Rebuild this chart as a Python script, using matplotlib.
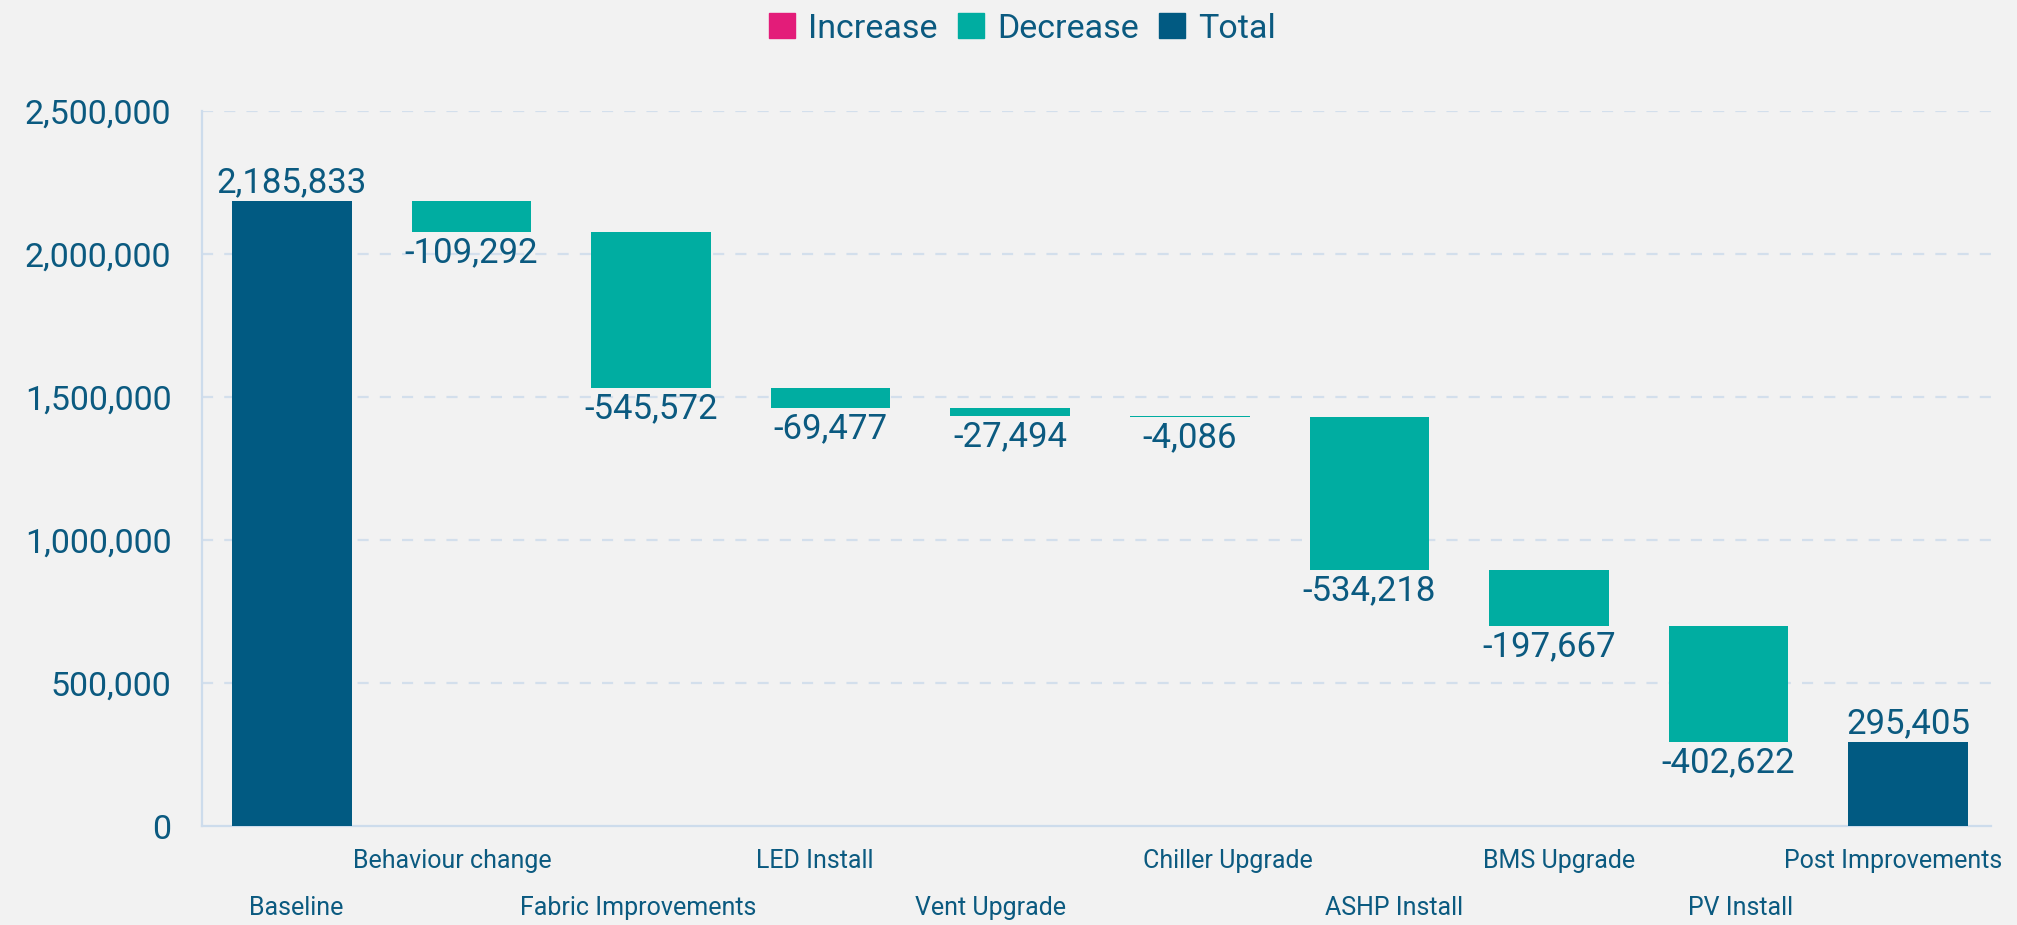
import numpy as np
import matplotlib.pyplot as plt
from matplotlib.patches import Patch
from matplotlib.ticker import FuncFormatter

categories = ["Baseline", "Behaviour change", "Fabric Improvements", "LED Install",
              "Vent Upgrade", "Chiller Upgrade", "ASHP Install", "BMS Upgrade",
              "PV Install", "Post Improvements"]
values = [2185833, -109292, -545572, -69477, -27494, -4086, -534218, -197667,
          -402622, 295405]
kinds = ["total", "decrease", "decrease", "decrease", "decrease", "decrease",
         "decrease", "decrease", "decrease", "total"]
yticks = [0, 500000, 1000000, 1500000, 2000000, 2500000]

# horizontal nudge of each category label (pixels), as in the original layout
label_nudge = [4, -19, -13, -16, -20, 38, 25, 10, 12, -15]

c_inc = "#e31c79"
c_dec = "#00ada1"
c_tot = "#015a82"
c_txt = "#0b5a80"
c_grid = "#d3dfec"
bg = "#f2f2f2"

plt.rcParams['font.family'] = ['Roboto', 'DejaVu Sans']

fig = plt.figure(figsize=(20.17, 9.25), dpi=100, facecolor=bg)
ax = fig.add_axes([0.1001, 0.107, 0.8869, 0.773])
ax.set_facecolor(bg)

# waterfall bases
bottoms, heights, colors = [], [], []
running = 0
for v, k in zip(values, kinds):
    if k == "total":
        bottoms.append(0)
        heights.append(v)
        colors.append(c_tot)
        running = v
    else:
        new = running + v
        bottoms.append(min(running, new))
        heights.append(abs(v))
        colors.append(c_dec if v < 0 else c_inc)
        running = new

x = np.arange(len(categories))
ax.bar(x, heights, bottom=bottoms, width=0.666, color=colors, zorder=3)

for i, (v, k) in enumerate(zip(values, kinds)):
    txt = f"{v:,}"
    if k == "total":
        ax.annotate(txt, (x[i], bottoms[i] + heights[i]), xytext=(0, 1),
                    textcoords="offset points", ha="center", va="bottom",
                    fontsize=25, color=c_txt, zorder=4)
    else:
        ax.annotate(txt, (x[i], bottoms[i]), xytext=(0, -3),
                    textcoords="offset points", ha="center", va="top",
                    fontsize=25, color=c_txt, zorder=4)

ax.set_xlim(-0.5, 9.46)
ax.set_ylim(0, 2500000)
ax.set_yticks(yticks)
ax.yaxis.set_major_formatter(FuncFormatter(lambda v, p: f"{int(v):,}"))
ax.tick_params(axis="y", length=0, pad=22, labelsize=24.5, labelcolor=c_txt)
ax.set_xticks([])

for t in yticks[1:]:
    ax.axhline(t, color=c_grid, lw=1.6, ls=(0, (5, 5)), zorder=1)

for s in ["top", "right"]:
    ax.spines[s].set_visible(False)
for s in ["left", "bottom"]:
    ax.spines[s].set_color("#cddcec")
    ax.spines[s].set_linewidth(1.6)

# staggered category labels
for i, name in enumerate(categories):
    off = -35 if i % 2 else -82
    ax.annotate(name, (x[i], 0), xycoords=("data", "axes fraction"),
                xytext=(label_nudge[i] * 0.72, off * 0.72), textcoords="offset points",
                ha="center", va="center", fontsize=18, color=c_txt)

handles = [Patch(color=c_inc, label="Increase"),
           Patch(color=c_dec, label="Decrease"),
           Patch(color=c_tot, label="Total")]
leg = fig.legend(handles=handles, loc="center", bbox_to_anchor=(0.507, 0.969),
                 ncol=3, frameon=False, fontsize=24.5, handlelength=0.75,
                 handleheight=0.75, handletextpad=0.4, columnspacing=0.6)
for t in leg.get_texts():
    t.set_color(c_txt)

fig.savefig("out.png", dpi=100, facecolor=bg)
